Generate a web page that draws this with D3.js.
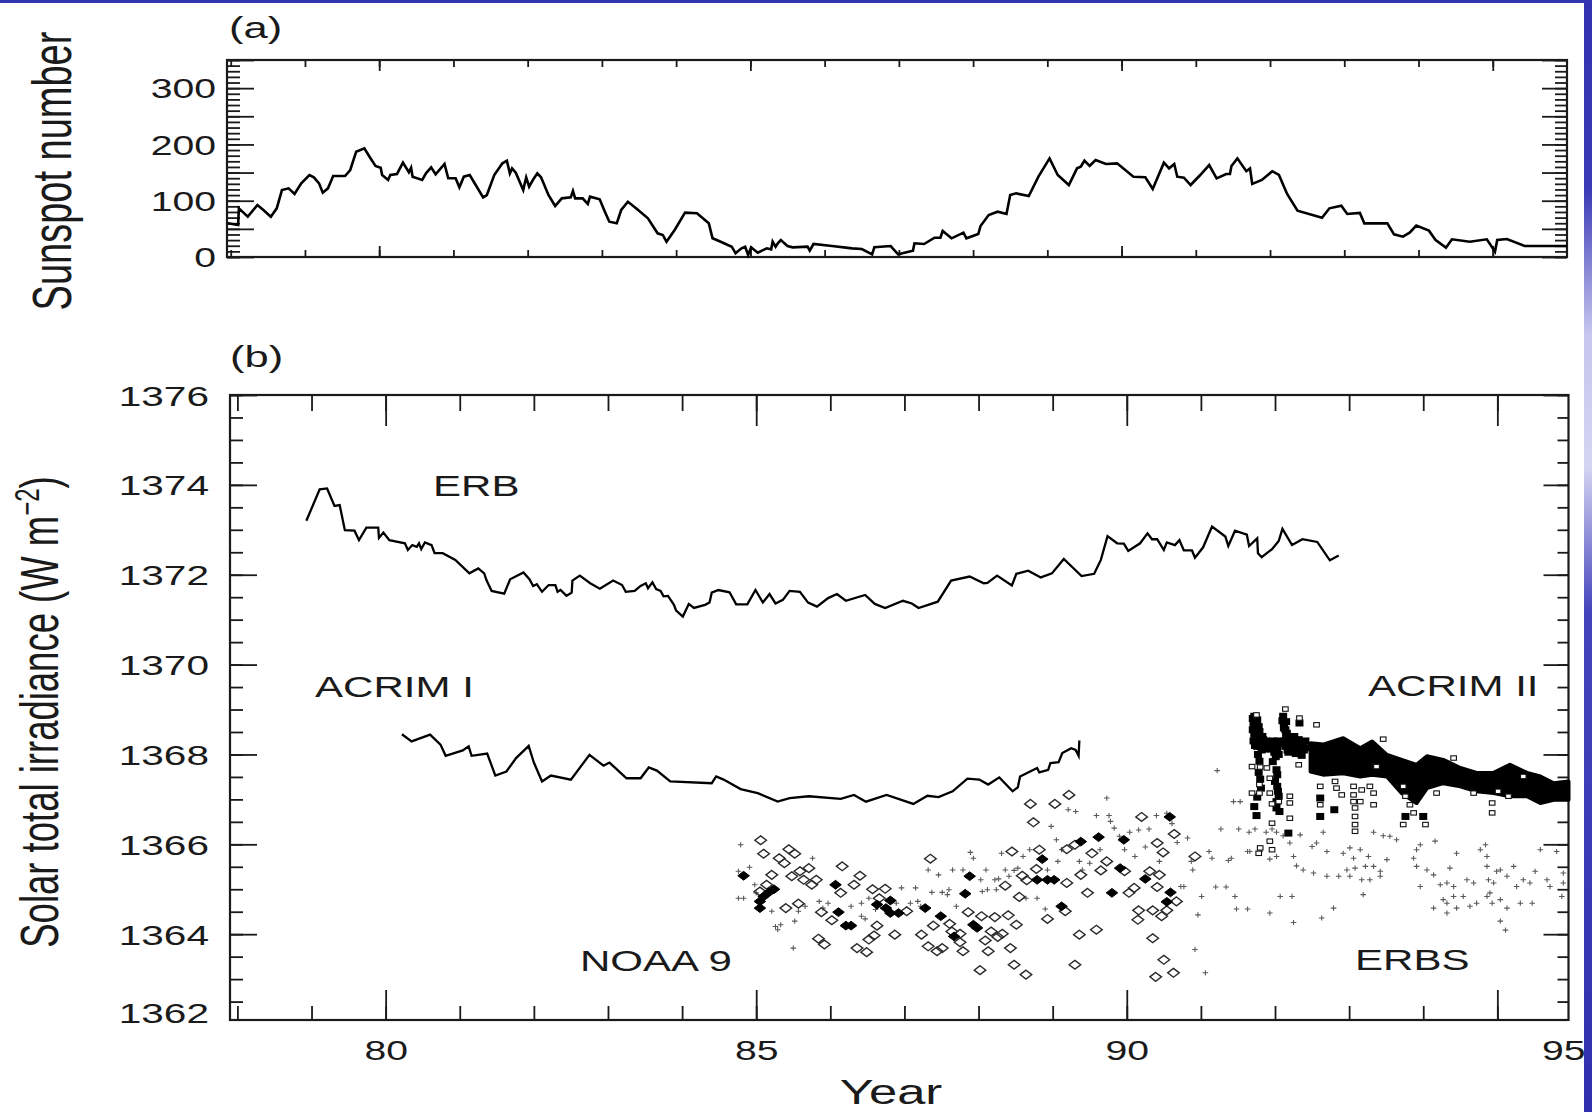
<!DOCTYPE html>
<html lang="en">
<head>
<meta charset="UTF-8">
<title>Sunspot number and solar total irradiance</title>
<script src="https://cdn.jsdelivr.net/npm/d3@7"></script>
<style>
  body { margin: 0; background: #fff; }
  svg { display: block; }
</style>
</head>
<body>
<div id="chart"></div>
<script>
// ---- data: [year (19xx), value] ----
const sunspot = [[77.96,59.8],[78.10,56.8],[78.11,86.5],[78.23,71.6],[78.36,92.4],[78.44,83.5],[78.54,71.6],[78.62,86.5],[78.69,119.0],[78.78,122.0],[78.86,111.9],[78.95,130.9],[79.06,145.7],[79.12,141.6],[79.19,130.9],[79.24,114.3],[79.31,122.0],[79.38,143.9],[79.54,143.9],[79.61,154.6],[79.69,187.1],[79.80,193.1],[79.87,178.2],[79.95,161.7],[80.02,158.7],[80.04,145.7],[80.12,136.8],[80.15,145.7],[80.24,147.5],[80.32,167.6],[80.40,150.5],[80.43,158.7],[80.45,142.7],[80.58,136.8],[80.63,148.6],[80.70,159.3],[80.76,146.9],[80.88,165.2],[80.93,139.8],[81.03,139.8],[81.08,123.8],[81.14,142.7],[81.22,145.7],[81.40,106.0],[81.45,110.1],[81.55,145.7],[81.66,166.4],[81.72,171.1],[81.76,148.6],[81.79,157.5],[81.84,149.8],[81.94,119.0],[81.98,141.6],[82.02,124.9],[82.07,136.8],[82.13,148.6],[82.18,141.6],[82.28,110.1],[82.37,90.6],[82.46,104.2],[82.58,106.0],[82.61,117.2],[82.64,104.2],[82.74,104.2],[82.81,94.2],[82.84,107.2],[82.97,102.5],[83.04,80.5],[83.10,62.7],[83.20,59.8],[83.26,83.5],[83.35,98.1],[83.46,86.5],[83.62,68.7],[83.75,42.1],[83.82,39.1],[83.87,27.2],[83.98,48.0],[84.12,78.7],[84.28,77.6],[84.44,59.8],[84.49,33.2],[84.60,27.2],[84.75,18.3],[84.80,6.6],[84.88,15.4],[84.93,18.3],[84.97,3.6],[85.01,17.2],[85.10,7.7],[85.22,15.4],[85.28,13.6],[85.30,27.2],[85.34,18.3],[85.37,24.3],[85.41,30.2],[85.50,19.5],[85.57,17.2],[85.77,18.3],[85.80,11.2],[85.85,23.1],[86.10,19.5],[86.37,15.4],[86.50,14.2],[86.64,4.7],[86.67,17.2],[86.89,19.5],[86.99,4.7],[87.19,11.2],[87.21,24.3],[87.34,23.1],[87.48,34.3],[87.56,34.3],[87.59,46.2],[87.71,33.2],[87.87,43.2],[87.91,33.2],[88.07,40.9],[88.10,55.1],[88.21,74.6],[88.33,80.5],[88.45,76.4],[88.50,110.1],[88.58,113.1],[88.75,108.4],[88.88,142.7],[89.03,175.3],[89.14,145.7],[89.29,127.9],[89.40,157.5],[89.45,160.4],[89.50,171.1],[89.57,161.7],[89.65,172.3],[89.79,165.2],[89.94,166.4],[90.16,142.7],[90.32,141.6],[90.42,120.8],[90.57,167.6],[90.64,157.5],[90.71,165.2],[90.75,142.7],[90.84,140.9],[90.93,127.9],[91.06,145.7],[91.18,163.4],[91.28,139.8],[91.41,147.5],[91.46,147.5],[91.48,161.7],[91.56,175.3],[91.68,152.4],[91.73,157.5],[91.76,129.7],[91.89,136.8],[92.03,152.4],[92.12,145.7],[92.23,111.9],[92.37,82.3],[92.70,69.8],[92.80,86.5],[92.96,91.1],[93.04,76.4],[93.21,78.2],[93.27,59.8],[93.58,59.8],[93.67,40.3],[93.79,36.1],[93.88,43.2],[93.97,55.7],[94.14,46.8],[94.23,30.2],[94.37,16.6],[94.45,31.4],[94.69,27.2],[94.92,31.4],[95.00,15.4],[95.03,9.5],[95.06,30.2],[95.19,32.0],[95.43,19.5],[96.0,19.5]];

const erb = [[78.93,1373.20],[79.11,1373.90],[79.21,1373.92],[79.31,1373.53],[79.38,1373.55],[79.45,1372.99],[79.58,1372.98],[79.64,1372.77],[79.74,1373.05],[79.90,1373.05],[79.91,1372.82],[79.97,1372.94],[80.05,1372.77],[80.26,1372.70],[80.30,1372.55],[80.36,1372.66],[80.42,1372.62],[80.45,1372.70],[80.48,1372.57],[80.53,1372.72],[80.62,1372.66],[80.66,1372.48],[80.77,1372.48],[80.94,1372.33],[81.13,1372.03],[81.25,1372.14],[81.33,1372.03],[81.36,1371.88],[81.43,1371.64],[81.60,1371.58],[81.68,1371.90],[81.86,1372.05],[81.94,1371.90],[81.99,1371.75],[82.04,1371.79],[82.11,1371.62],[82.20,1371.77],[82.29,1371.77],[82.32,1371.62],[82.36,1371.66],[82.44,1371.53],[82.51,1371.60],[82.52,1371.87],[82.62,1371.98],[82.76,1371.81],[82.89,1371.69],[83.07,1371.87],[83.19,1371.77],[83.24,1371.62],[83.36,1371.64],[83.44,1371.75],[83.51,1371.81],[83.54,1371.70],[83.60,1371.83],[83.65,1371.68],[83.71,1371.64],[83.75,1371.52],[83.81,1371.53],[83.89,1371.33],[83.92,1371.20],[84.01,1371.07],[84.09,1371.35],[84.16,1371.26],[84.31,1371.33],[84.37,1371.38],[84.40,1371.60],[84.49,1371.66],[84.64,1371.61],[84.73,1371.34],[84.88,1371.34],[84.99,1371.66],[85.09,1371.38],[85.18,1371.57],[85.26,1371.36],[85.36,1371.44],[85.45,1371.64],[85.59,1371.62],[85.70,1371.38],[85.82,1371.29],[85.97,1371.48],[86.09,1371.57],[86.21,1371.42],[86.47,1371.55],[86.60,1371.35],[86.74,1371.26],[86.98,1371.42],[87.10,1371.36],[87.19,1371.26],[87.45,1371.40],[87.63,1371.87],[87.88,1371.96],[88.07,1371.81],[88.12,1371.82],[88.25,1371.98],[88.45,1371.76],[88.51,1372.02],[88.67,1372.09],[88.84,1371.94],[88.99,1372.03],[89.15,1372.35],[89.39,1371.97],[89.56,1372.02],[89.65,1372.33],[89.74,1372.86],[89.87,1372.70],[89.96,1372.69],[90.02,1372.53],[90.18,1372.70],[90.28,1372.92],[90.34,1372.79],[90.41,1372.79],[90.50,1372.55],[90.54,1372.72],[90.65,1372.66],[90.71,1372.77],[90.77,1372.54],[90.88,1372.54],[90.92,1372.38],[91.03,1372.61],[91.15,1373.07],[91.33,1372.85],[91.37,1372.64],[91.46,1372.98],[91.62,1372.89],[91.65,1372.64],[91.76,1372.81],[91.77,1372.48],[91.82,1372.39],[91.96,1372.57],[92.05,1372.75],[92.10,1373.02],[92.23,1372.66],[92.37,1372.79],[92.57,1372.73],[92.74,1372.32],[92.86,1372.43]];

const acrim1 = [[80.22,1368.45],[80.35,1368.29],[80.60,1368.44],[80.74,1368.22],[80.81,1367.97],[81.04,1368.09],[81.12,1368.18],[81.16,1367.97],[81.37,1368.02],[81.48,1367.53],[81.63,1367.62],[81.76,1367.92],[81.93,1368.19],[82.00,1367.82],[82.11,1367.40],[82.23,1367.53],[82.50,1367.44],[82.75,1367.99],[82.94,1367.75],[83.02,1367.82],[83.25,1367.47],[83.44,1367.47],[83.55,1367.71],[83.66,1367.64],[83.84,1367.40],[84.40,1367.36],[84.46,1367.51],[84.56,1367.44],[84.79,1367.23],[85.02,1367.14],[85.29,1366.95],[85.45,1367.03],[85.71,1367.07],[86.14,1367.01],[86.32,1367.10],[86.48,1366.95],[86.76,1367.10],[87.12,1366.90],[87.31,1367.08],[87.46,1367.05],[87.65,1367.18],[87.85,1367.46],[88.01,1367.44],[88.13,1367.33],[88.28,1367.49],[88.46,1367.18],[88.53,1367.27],[88.56,1367.51],[88.79,1367.70],[88.82,1367.60],[88.94,1367.66],[88.97,1367.81],[89.08,1367.83],[89.13,1368.03],[89.25,1368.14],[89.31,1368.10],[89.35,1367.97],[89.36,1368.31]];

const noaaOpen = [[85.06,1366.09],[85.10,1365.79],[85.31,1365.69],[85.38,1365.58],[85.44,1365.89],[85.52,1365.79],[85.21,1365.32],[85.14,1365.10],[85.05,1364.95],[85.48,1365.29],[85.59,1365.40],[85.71,1365.47],[85.64,1365.21],[85.75,1365.10],[85.81,1365.21],[86.16,1365.51],[86.40,1365.30],[86.32,1365.10],[86.14,1364.92],[86.57,1365.00],[86.74,1365.01],[86.66,1364.80],[85.40,1364.58],[85.57,1364.68],[85.88,1364.49],[86.02,1364.31],[85.84,1363.90],[85.92,1363.77],[86.36,1363.69],[86.49,1363.60],[86.52,1363.88],[86.59,1363.97],[86.63,1364.19],[86.87,1363.99],[87.03,1364.51],[87.23,1363.99],[87.32,1363.73],[87.39,1364.19],[87.44,1363.62],[87.51,1363.69],[87.61,1364.23],[87.64,1364.06],[87.75,1364.01],[87.75,1363.82],[87.79,1363.62],[87.86,1364.49],[88.04,1364.40],[88.09,1363.86],[88.13,1363.62],[88.17,1364.06],[88.22,1364.38],[88.26,1363.94],[88.32,1364.01],[88.40,1364.42],[88.43,1363.69],[88.48,1363.32],[88.51,1364.21],[88.55,1364.83],[88.36,1365.08],[88.45,1365.84],[88.64,1363.10],[88.02,1363.20],[87.35,1365.68],[88.59,1365.30],[88.65,1365.20],[88.78,1365.45],[88.82,1365.88],[88.74,1366.49],[88.70,1366.90],[89.03,1366.90],[89.22,1367.10],[89.19,1365.14],[89.17,1364.51],[88.93,1364.34],[89.19,1365.89],[89.30,1365.99],[89.38,1365.32],[89.47,1364.92],[89.53,1365.80],[89.65,1365.42],[89.73,1365.62],[90.03,1364.92],[90.10,1365.03],[90.20,1366.61],[90.41,1366.03],[90.49,1365.82],[90.41,1365.05],[90.31,1365.40],[90.44,1365.32],[90.16,1364.53],[90.15,1364.32],[90.35,1364.53],[90.47,1364.40],[90.54,1364.53],[90.67,1364.73],[90.64,1366.23],[90.92,1365.73],[90.35,1363.91],[90.50,1363.43],[90.39,1363.05],[90.63,1363.14],[89.30,1363.32],[89.36,1363.99],[89.59,1364.10],[89.97,1365.40]];

const noaaFilled = [[84.83,1365.30],[85.05,1364.58],[85.05,1364.73],[85.10,1364.84],[85.17,1364.93],[85.24,1365.00],[86.07,1365.10],[86.11,1364.49],[86.21,1364.19],[86.28,1364.19],[86.63,1364.66],[86.75,1364.58],[86.81,1364.75],[86.81,1364.47],[86.92,1364.47],[87.28,1364.58],[87.49,1364.40],[87.82,1364.90],[87.88,1365.29],[87.67,1363.95],[87.93,1364.21],[87.98,1364.14],[88.79,1365.21],[88.93,1365.21],[89.02,1365.21],[88.86,1365.67],[89.12,1364.62],[89.38,1366.06],[89.62,1366.16],[89.96,1366.10],[89.91,1365.47],[90.25,1365.23],[89.80,1364.92],[90.58,1366.61],[90.59,1364.93],[90.54,1364.72]];

const erbs = [[84.79,1365.99],[84.76,1365.40],[84.76,1364.80],[84.83,1364.80],[84.91,1365.49],[84.98,1365.10],[85.00,1364.92],[85.21,1364.51],[85.26,1364.17],[85.33,1364.21],[85.50,1363.69],[85.52,1364.29],[85.29,1364.10],[85.57,1364.51],[85.66,1364.62],[85.76,1365.69],[85.85,1364.73],[85.90,1364.58],[85.97,1364.69],[86.28,1364.62],[86.42,1364.69],[86.42,1364.40],[86.47,1364.34],[86.52,1364.80],[86.61,1364.55],[86.89,1364.69],[86.96,1365.03],[87.08,1364.69],[87.15,1365.03],[87.18,1364.73],[87.22,1364.62],[87.32,1365.43],[87.37,1364.93],[87.46,1365.32],[87.51,1364.93],[87.58,1364.88],[87.60,1364.99],[87.65,1365.43],[87.70,1364.62],[87.79,1365.43],[87.89,1365.82],[87.93,1365.69],[88.03,1365.21],[88.05,1364.95],[88.10,1365.43],[88.12,1364.99],[88.22,1365.21],[88.24,1364.99],[88.27,1365.23],[88.31,1365.80],[88.36,1365.43],[88.41,1365.29],[88.48,1365.42],[88.53,1365.47],[88.60,1365.73],[88.64,1364.80],[88.69,1365.88],[88.79,1364.80],[88.90,1364.56],[88.93,1365.43],[88.98,1366.40],[89.05,1366.10],[89.07,1365.62],[89.12,1365.88],[89.21,1366.77],[89.31,1366.73],[89.36,1365.62],[89.40,1365.43],[89.50,1365.58],[89.59,1366.64],[89.64,1365.88],[89.73,1367.03],[89.76,1366.64],[89.78,1366.51],[89.83,1366.36],[89.90,1366.18],[89.97,1365.88],[90.04,1366.27],[90.11,1365.73],[90.16,1366.32],[90.25,1365.94],[90.30,1366.34],[90.40,1366.64],[90.44,1365.62],[90.54,1366.69],[90.61,1366.46],[90.68,1366.04],[90.73,1365.06],[90.77,1365.06],[90.82,1366.14],[90.87,1365.62],[90.89,1365.43],[90.92,1363.66],[90.96,1364.43],[91.01,1364.84],[91.06,1363.14],[91.11,1365.84],[91.15,1365.69],[91.20,1365.05],[91.22,1367.64],[91.27,1366.34],[91.34,1365.05],[91.37,1365.64],[91.41,1365.69],[91.44,1366.95],[91.46,1364.84],[91.53,1366.95],[91.48,1364.56],[91.51,1366.34],[91.63,1364.56],[91.65,1366.27],[91.63,1365.84],[91.73,1366.34],[91.88,1366.27],[91.96,1366.34],[92.02,1366.27],[92.11,1366.19],[92.20,1366.03],[92.34,1366.21],[92.50,1365.95],[92.65,1366.27],[92.56,1366.03],[92.70,1365.84],[92.92,1365.80],[93.01,1365.92],[93.06,1365.69],[93.15,1365.88],[93.26,1365.73],[93.33,1366.27],[93.46,1366.19],[93.55,1366.18],[93.64,1366.10],[92.97,1365.43],[93.08,1365.47],[93.22,1365.51],[93.33,1365.51],[93.42,1365.29],[93.51,1365.66],[91.66,1365.84],[91.80,1365.84],[91.93,1365.67],[92.02,1365.73],[92.25,1365.73],[92.29,1365.52],[92.38,1365.43],[92.52,1365.36],[92.70,1365.29],[92.86,1365.29],[93.01,1365.29],[93.17,1365.21],[93.28,1365.21],[93.42,1365.40],[93.87,1365.69],[93.91,1365.88],[93.96,1365.99],[93.91,1365.51],[94.05,1365.43],[94.14,1365.32],[94.16,1366.07],[94.32,1365.14],[94.41,1365.06],[94.36,1365.47],[94.45,1365.80],[94.59,1365.21],[94.68,1365.14],[94.77,1365.88],[94.86,1365.73],[94.84,1365.99],[94.86,1365.51],[94.88,1365.21],[94.90,1364.92],[94.99,1365.40],[94.95,1365.14],[95.04,1365.43],[95.13,1365.29],[95.22,1365.51],[95.26,1365.06],[95.35,1365.21],[95.44,1365.14],[95.51,1365.40],[95.58,1365.88],[95.67,1365.21],[95.71,1365.06],[95.80,1365.84],[95.89,1365.36],[95.89,1365.14],[95.87,1364.84],[92.07,1364.84],[92.23,1364.84],[93.19,1364.88],[93.96,1365.06],[94.23,1365.10],[94.27,1364.77],[94.32,1364.69],[94.41,1364.84],[94.54,1364.84],[94.63,1364.62],[94.72,1364.69],[94.45,1364.58],[94.86,1364.84],[94.93,1364.69],[95.04,1364.77],[95.13,1364.58],[95.31,1364.69],[95.47,1364.69],[94.14,1364.58],[94.32,1364.47],[91.93,1364.47],[92.25,1364.26],[92.63,1364.36],[92.79,1364.58],[95.04,1364.29],[95.11,1364.09]];

// ACRIM II: dense band given as [year, upper edge, lower edge], plus single measurements
const acrim2Band = [[92.48,1368.25,1367.62],[92.65,1368.22,1367.55],[92.92,1368.36,1367.58],[93.15,1368.14,1367.51],[93.31,1368.29,1367.55],[93.51,1367.99,1367.51],[93.71,1367.88,1367.14],[93.91,1367.77,1366.92],[94.05,1367.96,1367.25],[94.27,1367.88,1367.36],[94.50,1367.70,1367.29],[94.72,1367.59,1367.18],[94.95,1367.59,1367.14],[95.17,1367.77,1367.07],[95.40,1367.59,1367.07],[95.58,1367.51,1366.92],[95.76,1367.36,1366.99],[95.96,1367.40,1366.99]];

const acrim2Filled = [[91.72,1368.85],[91.76,1368.77],[91.73,1368.62],[91.79,1368.51],[91.75,1368.39],[91.81,1368.25],[91.76,1368.18],[91.84,1368.33],[91.87,1368.22],[91.82,1368.10],[91.70,1368.80],[91.71,1368.70],[91.70,1368.55],[91.72,1368.45],[91.71,1368.30],[91.73,1368.20],[91.74,1368.72],[91.75,1368.55],[91.77,1368.44],[91.74,1368.28],[91.78,1368.35],[91.78,1368.62],[91.80,1368.30],[91.80,1368.18],[91.83,1368.40],[91.83,1368.15],[91.85,1368.28],[91.86,1368.12],[91.88,1368.30],[91.89,1368.18],[91.77,1368.00],[91.79,1367.85],[91.78,1367.60],[91.80,1367.45],[91.81,1367.25],[91.76,1367.05],[91.93,1368.18],[91.99,1368.27],[92.03,1368.10],[92.06,1368.24],[91.92,1368.25],[91.95,1368.12],[91.97,1368.30],[91.99,1368.05],[92.01,1368.20],[92.04,1368.30],[92.05,1368.00],[92.01,1367.95],[92.03,1367.55],[92.04,1367.18],[92.02,1366.95],[92.00,1367.40],[92.03,1367.29],[92.05,1367.07],[92.02,1366.81],[92.06,1366.73],[92.02,1367.66],[91.97,1367.84],[92.11,1368.85],[92.15,1368.73],[92.12,1368.59],[92.16,1368.47],[92.14,1368.18],[92.17,1368.10],[92.10,1368.75],[92.12,1368.68],[92.14,1368.55],[92.15,1368.40],[92.13,1368.30],[92.16,1368.22],[92.18,1368.05],[92.23,1368.36],[92.27,1368.25],[92.32,1368.33],[92.35,1368.14],[92.29,1368.07],[92.25,1368.10],[92.33,1368.70],[92.21,1368.30],[92.24,1368.20],[92.26,1368.40],[92.29,1368.18],[92.31,1368.28],[92.34,1368.05],[92.37,1368.22],[92.39,1368.10],[92.41,1368.30],[92.44,1368.15],[92.28,1368.02],[92.36,1367.98],[91.75,1366.64],[92.18,1366.25],[91.72,1366.84],[92.61,1367.03],[92.61,1366.62],[92.80,1366.77],[93.76,1366.62],[94.00,1366.62]];

const acrim2Open = [[91.75,1368.88],[92.14,1369.01],[92.33,1368.81],[92.56,1368.66],[93.46,1368.34],[94.41,1367.92],[91.69,1367.73],[91.80,1367.72],[91.89,1367.70],[91.93,1367.47],[91.79,1367.33],[91.79,1367.14],[91.69,1367.14],[91.93,1367.14],[91.96,1366.90],[92.05,1366.95],[92.20,1367.07],[92.20,1366.92],[91.96,1366.47],[91.93,1366.07],[91.80,1365.92],[91.78,1365.80],[91.96,1365.88],[92.20,1366.58],[92.32,1367.77],[92.61,1367.29],[92.61,1366.88],[92.81,1367.40],[92.83,1367.25],[92.90,1367.10],[93.06,1367.29],[93.06,1367.10],[93.06,1366.95],[93.15,1366.95],[93.17,1367.21],[93.28,1367.29],[93.33,1367.14],[93.33,1366.88],[93.08,1366.81],[93.08,1366.62],[93.08,1366.44],[93.08,1366.29],[93.37,1367.73],[93.73,1367.29],[93.76,1367.07],[93.82,1366.88],[93.87,1366.70],[93.73,1366.44],[94.03,1366.44],[94.18,1367.14],[94.93,1366.92],[94.93,1366.70],[95.15,1367.07],[94.68,1367.14],[95.01,1367.18],[95.35,1367.51]];

// axis ticks and labels
const yearLabels = [80, 85, 90, 95];
const sunspotLabels = [0, 100, 200, 300];
const irradianceLabels = [1364, 1366, 1368, 1370, 1372, 1374, 1376];

// ---- layout ----
const W = 1592, H = 1112;
const INK = '#1a1a1a';
const FONT = "'Liberation Sans', Arial, Helvetica, sans-serif";
const SX = 1.45; // the lettering in the source is stretched sideways

const svg = d3.select('#chart').append('svg')
  .attr('width', W).attr('height', H)
  .style('font-family', FONT);

svg.append('rect').attr('width', W).attr('height', H).attr('fill', '#fff');

// blue slide edges
const grad = svg.append('defs').append('linearGradient')
  .attr('id', 'edge').attr('x1', 0).attr('y1', 0).attr('x2', 0).attr('y2', 1);
[[0, '#3232b0'], [0.17, '#3a3ab6'], [0.3, '#c6c6ee'], [0.42, '#d4d4f2'], [0.55, '#4444bc'], [1, '#3030ae']]
  .forEach(s => grad.append('stop').attr('offset', s[0]).attr('stop-color', s[1]));
svg.append('rect').attr('x', 1584).attr('y', 0).attr('width', 8).attr('height', H).attr('fill', 'url(#edge)');
svg.append('rect').attr('x', 0).attr('y', 0).attr('width', W).attr('height', 3).attr('fill', '#3535b2');

// scales
const xA = d3.scaleLinear().domain([77.95, 96.0]).range([227, 1567]);
const yA = d3.scaleLinear().domain([0, 350]).range([257, 60]);
const xB = d3.scaleLinear().domain([77.9, 95.96]).range([230, 1568.5]);
const yB = d3.scaleLinear().domain([1362.09, 1376]).range([1020, 395]);

const minorYears = d3.range(78, 96);

function tickSet(axis, values, size, at) {
  const g = svg.append('g').attr('transform', at)
    .call(axis.tickValues(values).tickSize(size).tickFormat(''));
  g.select('.domain').remove();
  g.selectAll('line').attr('stroke', INK).attr('stroke-width', 1.8);
  return g;
}

function stretchLabels(g, size) {
  g.select('.domain').remove();
  g.selectAll('text').attr('font-size', size).attr('fill', INK).attr('font-family', FONT)
    .each(function () {
      const t = d3.select(this);
      const x = +t.attr('x') || 0;
      const y = +t.attr('y') || 0;
      t.attr('x', 0).attr('y', 0).attr('transform', `translate(${x},${y}) scale(${SX},1)`);
    });
}

function text(x, y, str, size, anchor) {
  return svg.append('text')
    .attr('transform', `translate(${x},${y}) scale(${SX},1)`)
    .attr('font-size', size).attr('fill', INK)
    .attr('text-anchor', anchor || 'start')
    .text(str);
}

// ---- panel (a) ----
tickSet(d3.axisBottom(xA), minorYears, 7, 'translate(0,60)');
tickSet(d3.axisBottom(xA), yearLabels, 11, 'translate(0,60)');
tickSet(d3.axisTop(xA), minorYears, 7, 'translate(0,257)');
tickSet(d3.axisTop(xA), yearLabels, 11, 'translate(0,257)');
tickSet(d3.axisRight(yA), d3.range(0, 351, 10), 13, 'translate(227,0)');
tickSet(d3.axisRight(yA), d3.range(0, 351, 50), 27, 'translate(227,0)');
tickSet(d3.axisLeft(yA), d3.range(0, 351, 10), 12, 'translate(1567,0)');
tickSet(d3.axisLeft(yA), d3.range(0, 351, 50), 25, 'translate(1567,0)');

const yLabA = svg.append('g').attr('transform', 'translate(227,0)')
  .call(d3.axisLeft(yA).tickValues(sunspotLabels).tickSize(0).tickPadding(11));
stretchLabels(yLabA, 27);
yLabA.selectAll('text').attr('dy', '0.36em');

svg.append('rect').attr('x', 227).attr('y', 60).attr('width', 1340).attr('height', 197)
  .attr('fill', 'none').attr('stroke', INK).attr('stroke-width', 2.2);

svg.append('path').datum(sunspot)
  .attr('fill', 'none').attr('stroke', '#000').attr('stroke-width', 2.6)
  .attr('stroke-linejoin', 'miter')
  .attr('d', d3.line().x(d => xA(d[0])).y(d => yA(d[1])));

text(229, 38, '(a)', 30);
svg.append('text')
  .attr('transform', `translate(71,171) scale(${SX},1) rotate(-90)`)
  .attr('font-size', 38).attr('fill', INK).attr('text-anchor', 'middle')
  .text('Sunspot number');

// ---- panel (b) ----
tickSet(d3.axisBottom(xB), minorYears, 16, 'translate(0,395)');
tickSet(d3.axisBottom(xB), yearLabels, 31, 'translate(0,395)');
tickSet(d3.axisTop(xB), minorYears, 14, 'translate(0,1020)');
tickSet(d3.axisTop(xB), yearLabels, 30, 'translate(0,1020)');
tickSet(d3.axisRight(yB), d3.range(1362.5, 1376.1, 0.5), 13, 'translate(230,0)');
tickSet(d3.axisRight(yB), irradianceLabels, 27, 'translate(230,0)');
tickSet(d3.axisLeft(yB), d3.range(1362.5, 1376.1, 0.5), 11, 'translate(1568.5,0)');
tickSet(d3.axisLeft(yB), irradianceLabels, 25, 'translate(1568.5,0)');

// the bottom label sits just above the frame corner in the source
const yLabB = svg.append('g').attr('transform', 'translate(230,0)')
  .call(d3.axisLeft(yB).tickValues(irradianceLabels.concat([1362.25]))
    .tickSize(0).tickPadding(21).tickFormat(d => Math.round(d)));
stretchLabels(yLabB, 28);
yLabB.selectAll('text').attr('dy', '0.36em');

const xLab = svg.append('g').attr('transform', 'translate(0,1020)')
  .call(d3.axisBottom(xB).tickValues(yearLabels).tickSize(0));
xLab.selectAll('text').attr('y', 40).attr('dy', 0);
stretchLabels(xLab, 27);
// the "95" of the source is printed at the right corner, not under its tick
xLab.selectAll('.tick').filter(d => d === 95).select('text')
  .attr('transform', `translate(66,40) scale(${SX},1)`);

svg.append('rect').attr('x', 230).attr('y', 395).attr('width', 1338.5).attr('height', 625)
  .attr('fill', 'none').attr('stroke', INK).attr('stroke-width', 2.2);

const plotB = svg.append('g');
const lineB = d3.line().x(d => xB(d[0])).y(d => yB(d[1]));

plotB.append('path').datum(erb)
  .attr('fill', 'none').attr('stroke', '#000').attr('stroke-width', 2.3).attr('d', lineB);
plotB.append('path').datum(acrim1)
  .attr('fill', 'none').attr('stroke', '#000').attr('stroke-width', 2.3).attr('d', lineB);

// ERBS crosses
plotB.append('g').selectAll('path').data(erbs).join('path')
  .attr('transform', d => `translate(${xB(d[0])},${yB(d[1])})`)
  .attr('d', 'M-2.8,0H2.8M0,-2.6V2.6')
  .attr('stroke', '#5a5a5a').attr('stroke-width', 1.1);

// NOAA 9 diamonds
const diamond = 'M0,-4.4L5.8,0L0,4.4L-5.8,0Z';
plotB.append('g').selectAll('path').data(noaaOpen).join('path')
  .attr('transform', d => `translate(${xB(d[0])},${yB(d[1])})`)
  .attr('d', diamond).attr('fill', 'none').attr('stroke', '#2a2a2a').attr('stroke-width', 1.4);
plotB.append('g').selectAll('path').data(noaaFilled).join('path')
  .attr('transform', d => `translate(${xB(d[0])},${yB(d[1])})`)
  .attr('d', diamond).attr('fill', '#000').attr('stroke', '#000').attr('stroke-width', 1);

// ACRIM II
plotB.append('path').datum(acrim2Band)
  .attr('fill', '#000').attr('stroke', '#000').attr('stroke-width', 4).attr('stroke-linejoin', 'round')
  .attr('d', d3.area().x(d => xB(d[0])).y0(d => yB(d[2])).y1(d => yB(d[1])));
plotB.append('g').selectAll('rect').data(acrim2Filled).join('rect')
  .attr('x', d => xB(d[0]) - 4).attr('y', d => yB(d[1]) - 3.5)
  .attr('width', 8).attr('height', 7).attr('fill', '#000');
plotB.append('g').selectAll('rect').data(acrim2Open).join('rect')
  .attr('x', d => xB(d[0]) - 2.8).attr('y', d => yB(d[1]) - 2.2)
  .attr('width', 5.6).attr('height', 4.4)
  .attr('fill', '#fff').attr('stroke', '#111').attr('stroke-width', 1.1);

// series names
text(433, 496, 'ERB', 29);
text(315, 697, 'ACRIM I', 29);
text(1368, 696, 'ACRIM II', 29);
text(580, 971, 'NOAA 9', 29);
text(1355, 970, 'ERBS', 29);
text(230, 367, '(b)', 30);

text(891, 1104, 'Year', 35, 'middle');

const yTitle = svg.append('text')
  .attr('transform', `translate(58,712) scale(${SX},1) rotate(-90)`)
  .attr('font-size', 36.5).attr('fill', INK).attr('text-anchor', 'middle');
yTitle.append('tspan').text('Solar total irradiance (W m');
yTitle.append('tspan').attr('font-size', 24).attr('dy', -13).text('\u22122');
yTitle.append('tspan').attr('dy', 13).text(')');
</script>
</body>
</html>
